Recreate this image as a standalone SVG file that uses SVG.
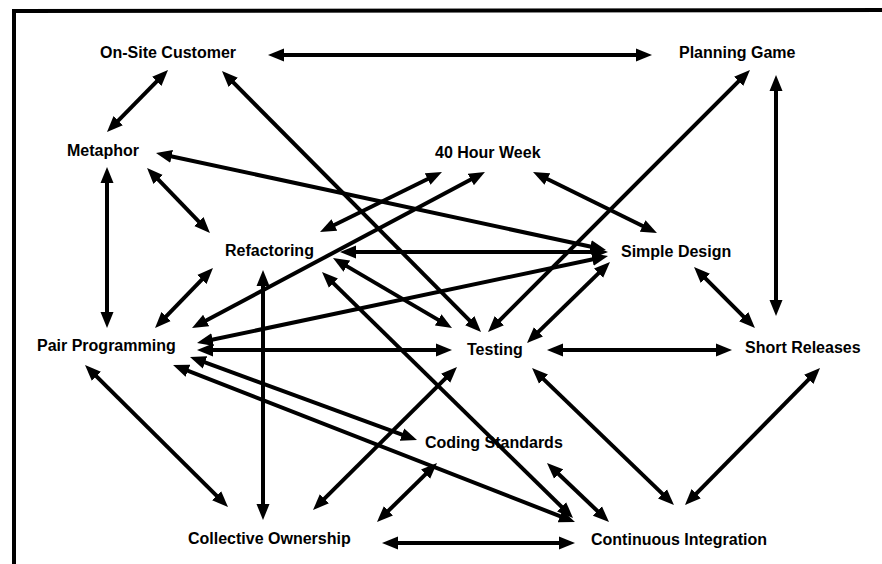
<svg xmlns="http://www.w3.org/2000/svg" width="882" height="564" viewBox="0 0 882 564">
<style>
.lbl{font-family:"Liberation Sans",Arial,sans-serif;font-weight:bold;font-size:16px;fill:#000}
.c line{stroke:#000;stroke-width:4;marker-start:url(#ah);marker-end:url(#ah)}
</style>
<defs>
<marker id="ah" viewBox="0 -7 16 14" markerWidth="16" markerHeight="14" refX="8" refY="0" markerUnits="userSpaceOnUse" orient="auto-start-reverse">
<path d="M0,-6.5 L16,0 L0,6.5 z" fill="#000"/>
</marker>
</defs>
<rect width="882" height="564" fill="#fff"/>
<path d="M14,564 L14,11 L882,10" fill="none" stroke="#000" stroke-width="4"/>
<g class="c" id="connectors">
<line x1="276" y1="55" x2="644" y2="55"/>
<line x1="162.4" y1="75.7" x2="112.6" y2="126.3"/>
<line x1="227.6" y1="76.7" x2="475.4" y2="326.3"/>
<line x1="744.3" y1="75.7" x2="493.7" y2="326.3"/>
<line x1="776" y1="83" x2="776" y2="308"/>
<line x1="107" y1="175" x2="107" y2="320"/>
<line x1="152.6" y1="173.7" x2="204.4" y2="227.3"/>
<line x1="163.8" y1="154.7" x2="598.2" y2="248.3"/>
<line x1="348" y1="252" x2="600" y2="252"/>
<line x1="207.4" y1="273.8" x2="160.6" y2="322.2"/>
<line x1="477.9" y1="175.8" x2="199.1" y2="324.2"/>
<line x1="204.8" y1="341.3" x2="600.2" y2="257.7"/>
<line x1="205" y1="350" x2="444" y2="350"/>
<line x1="197.5" y1="359.7" x2="409.5" y2="437.3"/>
<line x1="180.5" y1="367.9" x2="567.5" y2="519.1"/>
<line x1="90.7" y1="370.6" x2="222.3" y2="501.4"/>
<line x1="327.2" y1="228.5" x2="434.8" y2="175.5"/>
<line x1="339.9" y1="262.1" x2="445.1" y2="323.9"/>
<line x1="263" y1="278" x2="263" y2="512"/>
<line x1="327.7" y1="277.6" x2="567.3" y2="512.4"/>
<line x1="532.7" y1="337.4" x2="604.3" y2="267.6"/>
<line x1="555" y1="350" x2="724" y2="350"/>
<line x1="451.3" y1="372.6" x2="318.7" y2="504.4"/>
<line x1="537.8" y1="373.6" x2="668.2" y2="499.4"/>
<line x1="540.2" y1="175.5" x2="649.8" y2="229.5"/>
<line x1="699.7" y1="272.7" x2="749.3" y2="322.3"/>
<line x1="814.4" y1="373.7" x2="690.6" y2="499.3"/>
<line x1="431.3" y1="468.6" x2="382.7" y2="516.4"/>
<line x1="552.8" y1="468.5" x2="603.2" y2="516.5"/>
<line x1="390" y1="543" x2="567" y2="543"/>
</g>
<g id="onsite"><text class="lbl" x="100" y="58">On-Site Customer</text></g>
<g id="planning"><text class="lbl" x="679" y="58">Planning Game</text></g>
<g id="metaphor"><text class="lbl" x="67" y="156">Metaphor</text></g>
<g id="week40"><text class="lbl" x="435" y="158">40 Hour Week</text></g>
<g id="refactoring"><text class="lbl" x="225" y="256">Refactoring</text></g>
<g id="simpledesign"><text class="lbl" x="621" y="257">Simple Design</text></g>
<g id="pairprog"><text class="lbl" x="37" y="351">Pair Programming</text></g>
<g id="testing"><text class="lbl" x="467" y="355">Testing</text></g>
<g id="shortrel"><text class="lbl" x="745" y="353">Short Releases</text></g>
<g id="codingstd"><text class="lbl" x="425" y="448">Coding Standards</text></g>
<g id="collective"><text class="lbl" x="188" y="544">Collective Ownership</text></g>
<g id="ci"><text class="lbl" x="591" y="545">Continuous Integration</text></g>
</svg>
